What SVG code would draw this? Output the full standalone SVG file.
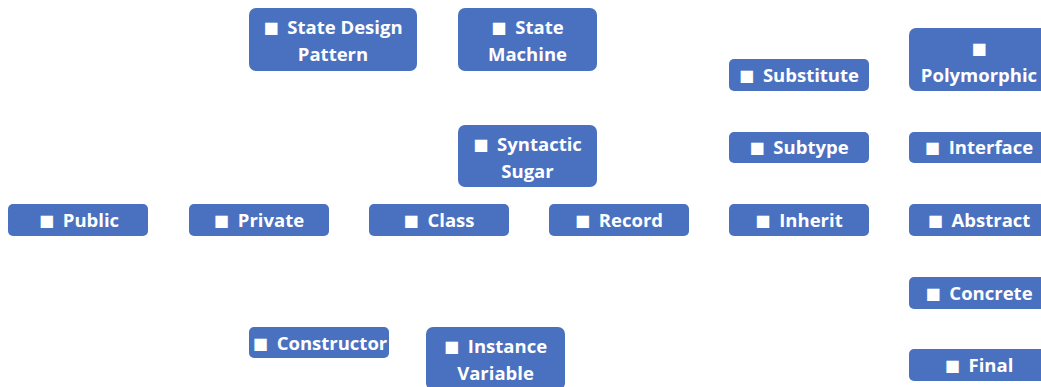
<svg xmlns="http://www.w3.org/2000/svg" width="1041" height="387" viewBox="0 0 1041 387">
<style>
.box{fill:#4A71BF;}
.t{fill:#ffffff;font-family:"Open Sans","DejaVu Sans",sans-serif;font-weight:700;font-size:18.5px;text-anchor:middle;}
.b{font-family:"DejaVu Sans",sans-serif;font-size:16px;baseline-shift:1px;}
</style>
<rect width="1041" height="387" fill="#ffffff"/>
<g id="connectors"/>
<g id="state-design-pattern"><rect class="box" x="249" y="8" width="168" height="63" rx="7"/><text class="t" x="333" y="34"><tspan class="b">■</tspan><tspan dx="4"> State Design</tspan></text><text class="t" x="333" y="61">Pattern</text></g>
<g id="state-machine"><rect class="box" x="458" y="8" width="139" height="63" rx="7"/><text class="t" x="527.5" y="34"><tspan class="b">■</tspan><tspan dx="4"> State</tspan></text><text class="t" x="527.5" y="61">Machine</text></g>
<g id="substitute"><rect class="box" x="729" y="59" width="140" height="32" rx="5"/><text class="t" x="799" y="82"><tspan class="b">■</tspan><tspan dx="4"> Substitute</tspan></text></g>
<g id="polymorphic"><rect class="box" x="909" y="28" width="140" height="63" rx="7"/><text class="t" x="979" y="55"><tspan class="b">■</tspan></text><text class="t" x="979" y="82">Polymorphic</text></g>
<g id="syntactic-sugar"><rect class="box" x="458" y="125" width="139" height="62" rx="7"/><text class="t" x="527.5" y="151"><tspan class="b">■</tspan><tspan dx="4"> Syntactic</tspan></text><text class="t" x="527.5" y="178">Sugar</text></g>
<g id="subtype"><rect class="box" x="729" y="132" width="140" height="31" rx="5"/><text class="t" x="799" y="154"><tspan class="b">■</tspan><tspan dx="4"> Subtype</tspan></text></g>
<g id="interface"><rect class="box" x="909" y="132" width="140" height="31" rx="5"/><text class="t" x="979" y="154"><tspan class="b">■</tspan><tspan dx="4"> Interface</tspan></text></g>
<g id="public"><rect class="box" x="8" y="204" width="140" height="32" rx="5"/><text class="t" x="79" y="227"><tspan class="b">■</tspan><tspan dx="4"> Public</tspan></text></g>
<g id="private"><rect class="box" x="189" y="204" width="140" height="32" rx="5"/><text class="t" x="259" y="227"><tspan class="b">■</tspan><tspan dx="4"> Private</tspan></text></g>
<g id="class"><rect class="box" x="369" y="204" width="140" height="32" rx="5"/><text class="t" x="439" y="227"><tspan class="b">■</tspan><tspan dx="4"> Class</tspan></text></g>
<g id="record"><rect class="box" x="549" y="204" width="140" height="32" rx="5"/><text class="t" x="619" y="227"><tspan class="b">■</tspan><tspan dx="4"> Record</tspan></text></g>
<g id="inherit"><rect class="box" x="729" y="204" width="140" height="32" rx="5"/><text class="t" x="799" y="227"><tspan class="b">■</tspan><tspan dx="4"> Inherit</tspan></text></g>
<g id="abstract"><rect class="box" x="909" y="204" width="140" height="32" rx="5"/><text class="t" x="979" y="227"><tspan class="b">■</tspan><tspan dx="4"> Abstract</tspan></text></g>
<g id="concrete"><rect class="box" x="909" y="277" width="140" height="32" rx="5"/><text class="t" x="979" y="300"><tspan class="b">■</tspan><tspan dx="4"> Concrete</tspan></text></g>
<g id="constructor"><rect class="box" x="249" y="327" width="140" height="31" rx="5"/><text class="t" x="320" y="350"><tspan class="b">■</tspan><tspan dx="4"> Constructor</tspan></text></g>
<g id="instance-variable"><rect class="box" x="426" y="327" width="139" height="63" rx="7"/><text class="t" x="495.5" y="353"><tspan class="b">■</tspan><tspan dx="4"> Instance</tspan></text><text class="t" x="495.5" y="380">Variable</text></g>
<g id="final"><rect class="box" x="909" y="349" width="140" height="32" rx="5"/><text class="t" x="979" y="372"><tspan class="b">■</tspan><tspan dx="4"> Final</tspan></text></g>
</svg>
